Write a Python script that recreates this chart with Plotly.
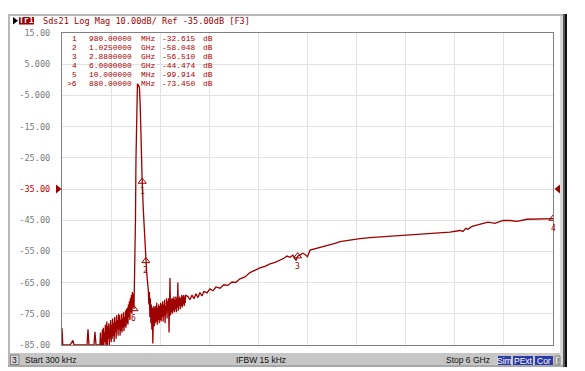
import numpy as np
import plotly.graph_objects as go

# ---- measured S21 trace, split by region (frequency in GHz, level in dB) ----
floor_f = [0.0003, 0.010, 0.024, 0.098, 0.134, 0.147, 0.220, 0.306, 0.318,
           0.330, 0.391, 0.403, 0.416]
floor_db = [-79.6, -99.914, -92.0, -90.0, -83.5, -91.0, -93.0, -90.0, -80.0,
            -91.0, -89.0, -80.8, -90.0]

low_noise_f = [0.464, 0.470, 0.476, 0.482, 0.488, 0.494, 0.500, 0.506, 0.512, 0.518,
               0.524, 0.530, 0.536, 0.542, 0.548, 0.554, 0.560, 0.566, 0.572, 0.578,
               0.584, 0.590, 0.596, 0.602, 0.608, 0.614, 0.620, 0.626, 0.632, 0.638,
               0.644, 0.650, 0.656, 0.662, 0.668, 0.674, 0.680, 0.686, 0.692]
low_noise_db = [-88, -81, -86, -83, -87, -80, -85, -79.5, -86, -81,
                -84, -78.5, -87, -80, -77.5, -85, -79, -83, -78, -86,
                -80, -82, -77, -84, -78.5, -83, -76.5, -82, -78, -84,
                -76, -81, -77.5, -83, -75.5, -80, -77, -82, -75]

skirt_f = [0.698, 0.704, 0.710, 0.716, 0.722, 0.728, 0.734, 0.740, 0.746, 0.752,
           0.758, 0.764, 0.770, 0.776, 0.782, 0.788, 0.794, 0.800, 0.806, 0.812,
           0.818, 0.824, 0.830, 0.836, 0.842, 0.848, 0.854, 0.860, 0.866, 0.872]
skirt_db = [-80, -75.5, -82, -77, -80.5, -75, -81, -76.5, -79.5, -74.5,
            -80.5, -76, -79, -74, -79.5, -73.5, -78, -73, -78.5, -72,
            -76, -71, -77, -70, -74.5, -69, -75, -68, -73, -68.5]

passband_f = [0.880, 0.886, 0.892, 0.898, 0.904, 0.913, 0.922, 0.935, 0.947,
              0.957, 0.968, 0.980, 0.994, 1.008, 1.025, 1.035, 1.055]
passband_db = [-73.45, -67, -60, -45, -25.7, -8, -1.3, -1.8, -2.6,
               -9, -22, -32.615, -41.7, -50, -58.048, -61.9, -67.4]

high_noise_f = [1.062, 1.068, 1.074, 1.080, 1.086, 1.092, 1.098, 1.104, 1.110, 1.116,
                1.122, 1.128, 1.134, 1.140, 1.146, 1.152, 1.158, 1.164, 1.170, 1.176,
                1.182, 1.188, 1.194, 1.200, 1.206, 1.212, 1.218, 1.224, 1.230, 1.236,
                1.242, 1.248, 1.254, 1.260, 1.266, 1.272, 1.278, 1.284, 1.290, 1.296,
                1.302, 1.308, 1.314, 1.320, 1.326, 1.332, 1.338, 1.344, 1.350, 1.356,
                1.362, 1.368, 1.374, 1.380, 1.386, 1.392, 1.398, 1.404, 1.410, 1.416,
                1.422, 1.428, 1.434, 1.440, 1.446, 1.452, 1.458, 1.464, 1.470, 1.476,
                1.482, 1.488, 1.494, 1.500, 1.506, 1.512]
high_noise_db = [-72, -68, -76, -70, -78, -72, -80, -73, -84.5, -77,
                 -72.5, -79, -73, -78, -72.5, -77.5, -71.5, -78.5, -73, -77,
                 -72, -78, -72.5, -77, -71.5, -77.5, -72, -76, -71, -77.5,
                 -72, -75.5, -70.5, -78, -72.5, -75, -70, -76.5, -71, -74,
                 -70, -81, -72, -63.5, -75.5, -70.5, -74.5, -70, -75, -70,
                 -74, -69.5, -74.5, -70.5, -73.5, -69.5, -74.5, -70, -73, -65,
                 -74, -70, -72.5, -69.5, -73.5, -70, -72.5, -69, -73, -69.5,
                 -72, -69, -72.5, -69.5, -71.5, -69]

upper_f = [1.540, 1.564, 1.589, 1.613, 1.637, 1.662, 1.686, 1.711, 1.735, 1.772,
           1.808, 1.845, 1.882, 1.931, 1.979, 2.028, 2.077, 2.126, 2.175, 2.236,
           2.297, 2.358, 2.419, 2.480, 2.542, 2.603, 2.664, 2.713, 2.749, 2.786,
           2.822, 2.860, 2.880, 2.908, 2.945, 2.969, 3.000, 3.031, 3.092, 3.153,
           3.214, 3.275, 3.336, 3.397, 3.458, 3.519, 3.641, 3.763, 3.885, 4.008,
           4.130, 4.252, 4.374, 4.496, 4.619, 4.741, 4.863, 4.900, 4.935, 4.961,
           5.010, 5.108, 5.206, 5.291, 5.389, 5.475, 5.560, 5.682, 5.841, 6.000]
upper_db = [-69.5, -70.5, -69, -70.2, -68.6, -69.8, -68.2, -69.3, -67.8, -68.3,
            -67, -67.6, -66.4, -66.8, -65.7, -65.9, -64.8, -64.9, -63.8, -63.2,
            -61.8, -61.0, -60.3, -59.8, -59.0, -58.5, -57.8, -57.2, -56.5, -56.9,
            -56.2, -57.9, -56.51, -56.0, -55.6, -56.0, -56.7, -54.6, -54.2, -53.7,
            -53.3, -53.0, -52.4, -51.9, -51.6, -51.3, -50.9, -50.6, -50.4, -50.2,
            -50.0, -49.7, -49.5, -49.2, -49.0, -48.8, -48.3, -48.6, -47.6, -47.9,
            -47.0, -46.3, -45.6, -46.0, -45.1, -45.1, -45.4, -44.7, -44.6, -44.474]

freq_ghz = floor_f + low_noise_f + skirt_f + passband_f + high_noise_f + upper_f
s21_db = floor_db + low_noise_db + skirt_db + passband_db + high_noise_db + upper_db
assert len(freq_ghz) == len(s21_db)

# ---- marker table ----
marker_ids = ["1", "2", "3", "4", "5", "6"]
marker_freq_ghz = [0.98, 1.025, 2.88, 6.0, 0.01, 0.88]
marker_freq_value = ["980.00000", "1.0250000", "2.8800000",
                     "6.0000000", "10.000000", "880.00000"]
marker_freq_unit = ["MHz", "GHz", "GHz", "GHz", "MHz", "MHz"]
marker_db = [-32.615, -58.048, -56.510, -44.474, -99.914, -73.450]
active_marker = "6"

# ---- scale / stimulus ----
y_ticks = [15, 5, -5, -15, -25, -35, -45, -55, -65, -75, -85]
y_tick_text = ["15.00", "5.000", "-5.000", "-15.00", "-25.00", "-35.00",
               "-45.00", "-55.00", "-65.00", "-75.00", "-85.00"]
ref_level = -35
start_ghz, stop_ghz = 0.0003, 6.0
n_div = 10

title_text = "Sds21 Log Mag 10.00dB/ Ref -35.00dB [F3]"
status_start = "Start 300 kHz"
status_ifbw = "IFBW 15 kHz"
status_stop = "Stop 6 GHz"

TRACE = "#9e0000"
MARK = "#cc2020"
MONO = "DejaVu Sans Mono"
TABLE_FONT = "Liberation Mono"
SANS = "Liberation Sans"

W, H = 585, 371
PL, PR, PT, PB = 62, 553, 33, 345   # plot box in pixels


def px(x):
    return (x - PL) / (PR - PL)


def py(y):
    return (PB - y) / (PB - PT)


y_min, y_max = y_ticks[-1], y_ticks[0]
db_per_px = (y_max - y_min) / (PB - PT)
shown_db = np.clip(np.array(s21_db), y_min, y_max)

fig = go.Figure()

fig.add_trace(go.Scatter(
    x=freq_ghz, y=shown_db, mode="lines",
    line=dict(color=TRACE, width=1.3), hoverinfo="skip", showlegend=False,
))

# markers sitting on the trace (only those inside the display range)
on_screen = [i for i, v in enumerate(marker_db) if y_min <= v <= y_max]
fig.add_trace(go.Scatter(
    x=[marker_freq_ghz[i] for i in on_screen],
    y=[marker_db[i] for i in on_screen],
    mode="markers",
    marker=dict(symbol="triangle-up-open", size=7, color=TRACE,
                line=dict(width=1, color=TRACE)),
    hoverinfo="skip", showlegend=False,
))

# marker position indicators along the bottom edge
row_db = y_min - 3.5 * db_per_px
fig.add_trace(go.Scatter(
    x=marker_freq_ghz, y=[row_db] * len(marker_ids), mode="markers",
    marker=dict(
        symbol=["triangle-up" if m == active_marker else "triangle-up-open"
                for m in marker_ids],
        size=9,
        color=[TRACE if m == active_marker else MARK for m in marker_ids],
        line=dict(width=1, color=[TRACE if m == active_marker else MARK
                                  for m in marker_ids]),
    ),
    cliponaxis=False, hoverinfo="skip", showlegend=False,
))
# markers below the display range get a second stacked indicator
below = [i for i, v in enumerate(marker_db) if v < y_min]
fig.add_trace(go.Scatter(
    x=[marker_freq_ghz[i] for i in below],
    y=[y_min - 7 * db_per_px] * len(below), mode="markers",
    marker=dict(symbol="triangle-up-open", size=8, color=MARK,
                line=dict(width=1, color=MARK)),
    cliponaxis=False, hoverinfo="skip", showlegend=False,
))

annotations = []
shapes = []

# marker number labels under the on-trace triangles
for i in on_screen:
    annotations.append(dict(
        x=marker_freq_ghz[i], y=marker_db[i], xref="x", yref="y",
        text=marker_ids[i], showarrow=False, yshift=-10,
        font=dict(family=MONO, size=8, color=TRACE),
    ))

# marker readout table, one column per field
for k, m in enumerate(marker_ids):
    flag = ">" if m == active_marker else ""
    row_y = py(38.5 + 8.95 * k)
    cells = [(flag + m, 78, "right"),
             (marker_freq_value[k], 87.5, "left"),
             (marker_freq_unit[k], 139.5, "left"),
             (f"{marker_db[k]:.3f}", 160.5, "left"),
             ("dB", 201.5, "left")]
    for txt, xx, anc in cells:
        annotations.append(dict(
            x=px(xx), y=row_y, xref="paper", yref="paper",
            xanchor=anc, yanchor="middle", text=txt,
            showarrow=False, borderpad=0,
            font=dict(family=TABLE_FONT, size=7.9, color="#b00000"),
        ))

# title line
annotations.append(dict(
    x=px(41), y=py(21), xref="paper", yref="paper", xanchor="left",
    yanchor="middle", text=title_text, showarrow=False,
    font=dict(family=MONO, size=8.6, color="#a00000"),
))
annotations.append(dict(
    x=px(26.5), y=py(20.8), xref="paper", yref="paper", xanchor="center",
    yanchor="middle", text="<b>Tr1</b>", showarrow=False,
    font=dict(family=MONO, size=8, color="white"),
))

# status bar texts
for txt, xx, anc in [(status_start, 23, "left"), (status_ifbw, 261, "center"),
                     (status_stop, 492, "right"), ("3", 14.5, "center")]:
    annotations.append(dict(
        x=px(xx), y=py(359.5), xref="paper", yref="paper", xanchor=anc,
        yanchor="middle", text=txt, showarrow=False,
        font=dict(family=SANS, size=8.5, color="#101010"),
    ))
for txt, x0, x1 in [("Sim", 498, 511), ("PExt", 513, 533), ("Cor", 535, 553)]:
    shapes.append(dict(type="rect", xref="paper", yref="paper",
                       x0=px(x0), x1=px(x1), y0=py(365), y1=py(356),
                       fillcolor="#2b3aa6", line=dict(width=0), layer="above"))
    annotations.append(dict(
        x=px((x0 + x1) / 2), y=py(360.5), xref="paper", yref="paper",
        xanchor="center", yanchor="middle", text=txt, showarrow=False,
        font=dict(family=SANS, size=8.5, color="white"),
    ))
annotations.append(dict(
    x=px(557.5), y=py(360.5), xref="paper", yref="paper", xanchor="center",
    yanchor="middle", text="!", showarrow=False,
    font=dict(family=SANS, size=8.5, color="#202020"),
))


def rect(x0, y0, x1, y1, fill, line=None, layer="above"):
    shapes.append(dict(type="rect", xref="paper", yref="paper",
                       x0=px(x0), x1=px(x1), y0=py(y1), y1=py(y0),
                       fillcolor=fill,
                       line=line if line else dict(width=0), layer=layer))


def tri(pts, fill):
    path = "M " + " L ".join(f"{px(a):.5f},{py(b):.5f}" for a, b in pts) + " Z"
    shapes.append(dict(type="path", xref="paper", yref="paper", path=path,
                       fillcolor=fill, line=dict(width=0), layer="above"))


# instrument window frame
rect(8, 14, 566, 16, "#b8b8b8")
rect(8, 14, 10, 366, "#b8b8b8")
rect(10, 353, 563, 365, "#c6c6c6", layer="below")
rect(8, 365, 566, 367, "#a8a8a8")
rect(560, 16, 563, 365, "#d8d8d8")
rect(563, 14, 565, 367, "#555555")
rect(565, 14, 567, 367, "#111111")
rect(10.5, 355, 19, 364.5, "#d4d4d4", line=dict(color="#808080", width=1))
rect(555, 356, 560, 365, "#d8d8d8", line=dict(color="#808080", width=1))
# trace tag
rect(19, 17, 34, 24.5, "#9c0000")
tri([(13, 17), (18, 20.8), (13, 24.5)], "#000000")
# reference level pointers
ref_y = PB - (ref_level - y_min) / db_per_px
tri([(56, ref_y - 4.5), (61.5, ref_y), (56, ref_y + 4.5)], "#9c0000")
tri([(560, ref_y - 4.5), (554.5, ref_y), (560, ref_y + 4.5)], "#9c0000")

# tick label colouring: reference level label in red
tick_text = [f'<span style="color:#c00000">{t}</span>' if v == ref_level else t
             for v, t in zip(y_ticks, y_tick_text)]
x_grid = [start_ghz + k * (stop_ghz - start_ghz) / n_div for k in range(n_div + 1)]

fig.update_layout(
    width=W, height=H,
    margin=dict(l=PL, r=W - PR, t=PT, b=H - PB, pad=0),
    paper_bgcolor="white", plot_bgcolor="white",
    xaxis=dict(range=[start_ghz, stop_ghz], tickvals=x_grid,
               showticklabels=False, ticks="", showgrid=True,
               gridcolor="#e2e2e2", gridwidth=1, zeroline=False,
               showline=True, mirror=True, linecolor="#808080", linewidth=1),
    yaxis=dict(range=[y_min, y_max], tickvals=y_ticks, ticktext=tick_text,
               ticks="", ticklabelstandoff=9, showgrid=True,
               gridcolor="#e2e2e2", gridwidth=1, zeroline=False,
               showline=True, mirror=True, linecolor="#808080", linewidth=1,
               tickfont=dict(family=MONO, size=8.6, color="#7a7a7a")),
    shapes=shapes, annotations=annotations, showlegend=False,
)

fig.write_html("out.html")
